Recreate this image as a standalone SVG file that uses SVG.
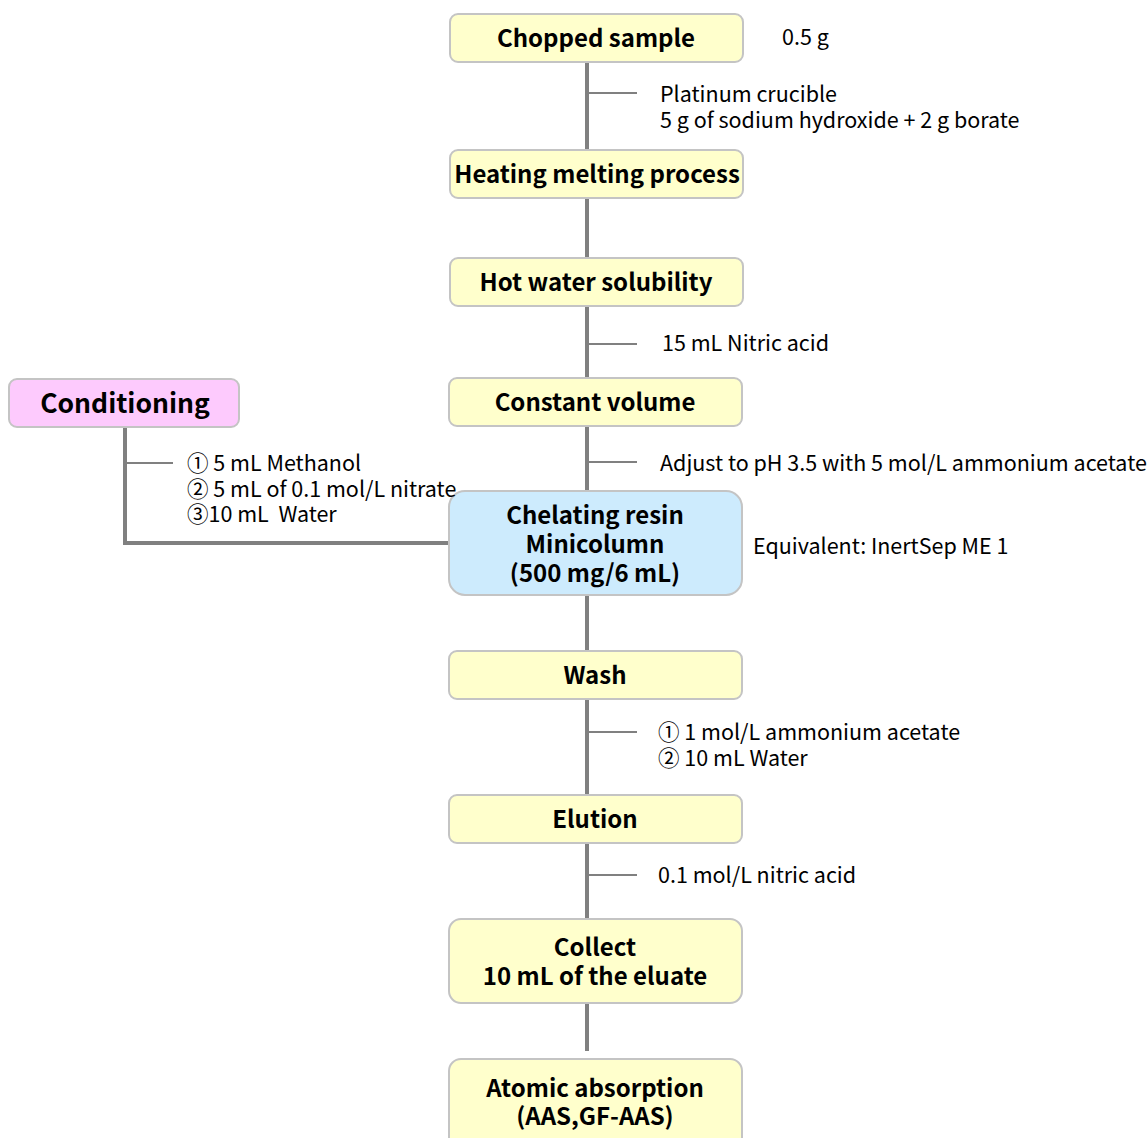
<svg xmlns="http://www.w3.org/2000/svg" width="1148" height="1138" viewBox="0 0 1148 1138">
<style>
.box{stroke:#c4c4c4;stroke-width:2}
.y{fill:#ffffcc}
.b{fill:#cdebfd}
.p{fill:#fdcafd}
.t{font-family:"Noto Sans CJK JP","Noto Sans",sans-serif;font-weight:bold;font-size:24px;fill:#000;text-anchor:middle}
.n{font-family:"Noto Sans CJK JP","Noto Sans",sans-serif;font-size:21.5px;fill:#000;white-space:pre}
.main{stroke:#808080;stroke-width:4;fill:none}
.tick{stroke:#808080;stroke-width:2;fill:none}
</style>
<rect width="1148" height="1138" fill="#fff"/>
<g id="connectors">
<line class="main" x1="587" y1="62" x2="587" y2="150"/>
<line class="main" x1="587" y1="198" x2="587" y2="258"/>
<line class="main" x1="587" y1="306" x2="587" y2="378"/>
<line class="main" x1="587" y1="426" x2="587" y2="491"/>
<line class="main" x1="587" y1="595" x2="587" y2="651"/>
<line class="main" x1="587" y1="699" x2="587" y2="795"/>
<line class="main" x1="587" y1="843" x2="587" y2="919"/>
<line class="main" x1="587" y1="1003" x2="587" y2="1051"/>
<polyline class="main" points="125,427 125,543 449,543"/>
<line class="tick" x1="587" y1="93" x2="637" y2="93"/>
<line class="tick" x1="587" y1="344" x2="637" y2="344"/>
<line class="tick" x1="587" y1="462" x2="637" y2="462"/>
<line class="tick" x1="587" y1="732" x2="637" y2="732"/>
<line class="tick" x1="587" y1="875" x2="637" y2="875"/>
<line class="tick" x1="125" y1="463" x2="173" y2="463"/>
</g>
<g id="chopped"><rect class="box y" x="450" y="14" width="293" height="48" rx="8"/><text class="t" x="596" y="47">Chopped sample</text></g>
<g id="heating"><rect class="box y" x="450" y="150" width="293" height="48" rx="8"/><text class="t" x="597" y="183">Heating melting process</text></g>
<g id="hotwater"><rect class="box y" x="450" y="258" width="293" height="48" rx="8"/><text class="t" x="596" y="291">Hot water solubility</text></g>
<g id="constant"><rect class="box y" x="449" y="378" width="293" height="48" rx="8"/><text class="t" x="595" y="411">Constant volume</text></g>
<g id="conditioning"><rect class="box p" x="9" y="379" width="230" height="48" rx="8"/><text class="t" x="125" y="413" style="font-size:26.5px">Conditioning</text></g>
<g id="chelating"><rect class="box b" x="449" y="491" width="293" height="104" rx="16"/><text class="t" x="595" y="524">Chelating resin</text><text class="t" x="595" y="553">Minicolumn</text><text class="t" x="595" y="582">(500 mg/6 mL)</text></g>
<g id="wash"><rect class="box y" x="449" y="651" width="293" height="48" rx="8"/><text class="t" x="595" y="684">Wash</text></g>
<g id="elution"><rect class="box y" x="449" y="795" width="293" height="48" rx="8"/><text class="t" x="595" y="828">Elution</text></g>
<g id="collect"><rect class="box y" x="449" y="919" width="293" height="84" rx="12"/><text class="t" x="595" y="956">Collect</text><text class="t" x="595" y="985">10 mL of the eluate</text></g>
<g id="atomic"><rect class="box y" x="449" y="1059" width="293" height="90" rx="12"/><text class="t" x="595" y="1097">Atomic absorption</text><text class="t" x="595" y="1125">(AAS,GF-AAS)</text></g>
<g id="notes">
<text class="n" x="782" y="45">0.5 g</text>
<text class="n" x="660" y="102">Platinum crucible</text>
<text class="n" x="660" y="128">5 g of sodium hydroxide + 2 g borate</text>
<text class="n" x="662" y="351">15 mL Nitric acid</text>
<text class="n" x="660" y="471">Adjust to pH 3.5 with 5 mol/L ammonium acetate</text>
<text class="n" x="753" y="554">Equivalent: InertSep ME 1</text>
<text class="n" x="658" y="740">① 1 mol/L ammonium acetate</text>
<text class="n" x="658" y="766">② 10 mL Water</text>
<text class="n" x="658" y="883">0.1 mol/L nitric acid</text>
<text class="n" x="187" y="471">① 5 mL Methanol</text>
<text class="n" x="187" y="497">② 5 mL of 0.1 mol/L nitrate</text>
<text class="n" x="187" y="522">③10 mL  Water</text>
</g>
</svg>
